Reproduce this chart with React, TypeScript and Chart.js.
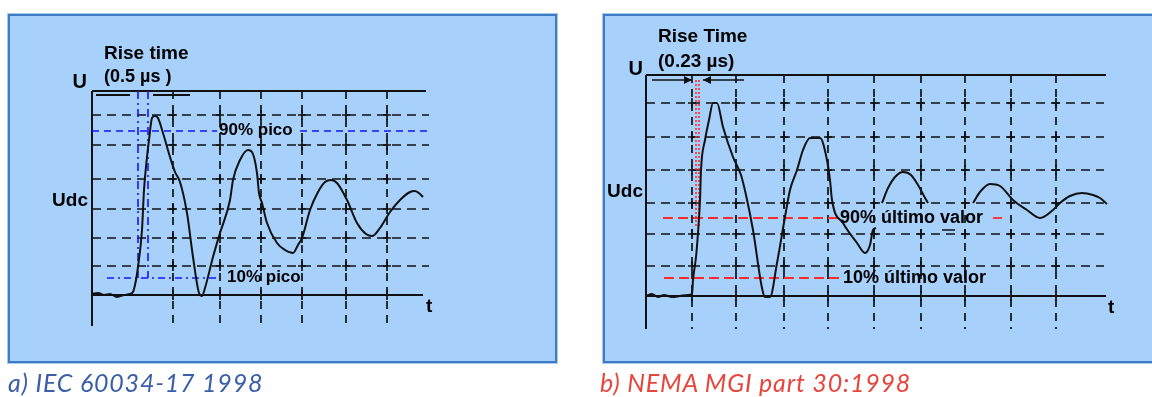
import React, { useEffect, useRef } from "react";
import { Chart, registerables } from "chart.js";

Chart.register(...registerables);

// ---------- a) IEC 60034-17 1998 (time / voltage in arbitrary screen units) ----------
const iecTime = [0, 6, 12, 18, 25, 32, 38, 41, 44, 46, 50, 52, 55, 57, 60, 63, 66, 71, 78, 83, 88, 95, 101, 107, 110, 113, 121, 128, 138, 141, 148, 156, 160, 165, 167, 170, 175, 185, 193, 201, 206, 210, 218, 226, 233, 239, 245, 255, 265, 274, 280, 288, 298, 308, 318, 323, 328, 331];
const iecVoltage = [1, 2, 0, 1, -2, 0, 1, 3, 15, 28, 65, 105, 138, 155, 177, 179, 177, 162, 138, 123, 113, 82, 38, 2, -1, 7, 38, 62, 95, 115, 135, 145, 143, 122, 102, 92, 72, 52, 45, 42, 50, 57, 85, 103, 113, 115, 112, 95, 72, 61, 59, 67, 83, 95, 103, 104, 101, 98];
const iecGridTime = [81, 128, 169, 210, 254, 295];
const iecGridVoltage = [180, 150, 116, 86, 57, 29];
const iecPeak90 = 164;
const iecPeak10 = 17;
const iecRiseStart = 46;
const iecRiseEnd = 56;

// ---------- b) NEMA MGI part 30:1998 ----------
const nemaTime1 = [0, 6, 12, 18, 26, 34, 42, 46, 47, 50, 52, 54, 55, 59, 63, 67, 71, 77, 87, 95, 100, 107, 116, 119, 124, 131, 139, 144, 151, 157, 164, 174, 181, 184, 186, 197, 211, 219, 224, 227, 230];
const nemaVoltage1 = [0, 2, -1, 1, -1, 0, 1, 2, 16, 39, 63, 96, 126, 156, 176, 193, 193, 169, 139, 121, 101, 66, 8, -1, -1, 33, 79, 106, 126, 146, 158, 158, 136, 116, 96, 73, 53, 43, 51, 66, 68];
const nemaTime2 = [236, 242, 249, 257, 265, 272, 278, 282];
const nemaVoltage2 = [93, 108, 119, 124, 121, 111, 100, 93];
const nemaTime3 = [327, 334, 344, 354, 367, 381, 394, 407, 414, 424, 436, 447, 454, 461];
const nemaVoltage3 = [93, 104, 112, 110, 96, 86, 78, 86, 93, 100, 103, 101, 98, 92];
const nemaGridTime = [46, 90, 138, 182, 228, 275, 319, 365, 410];
const nemaGridVoltage = [193, 159, 126, 93, 62, 30];
const nemaFinal90 = 78;
const nemaFinal10 = 18;
const nemaRiseStart = 50;
const nemaRiseEnd = 53;

type Pt = [number, number];
interface Guide { pts: Pt[]; color: string; dash: number[]; width: number }
interface Arrow { from: Pt; to: Pt }
interface Label { text: string; at: Pt; align: CanvasTextAlign; size: number; color?: string }
interface Spec {
  left: number; width: number;
  pad: { left: number; top: number; right: number; bottom: number };
  tMax: number; uMin: number; uMax: number;
  gridT: number[]; gridU: number[]; gridEnd: number; topEnd: number; baseEnd: number;
  series: { t: number[]; u: number[] }[];
  guides: Guide[]; arrows: Arrow[]; labels: Label[];
}

const BLUE = "#1414ff";
const RED = "#ff2b2b";
const INK = "#111111";

const iecSpec: Spec = {
  left: 0, width: 576,
  pad: { left: 92, top: 91, right: 150, bottom: 71 },
  tMax: 334, uMin: -31, uMax: 204,
  gridT: iecGridTime, gridU: iecGridVoltage, gridEnd: 337, topEnd: 334, baseEnd: 331,
  series: [{ t: iecTime, u: iecVoltage }],
  guides: [
    { pts: [[0, iecPeak90], [125, iecPeak90]], color: BLUE, dash: [7, 5], width: 1.6 },
    { pts: [[208, iecPeak90], [337, iecPeak90]], color: BLUE, dash: [7, 5], width: 1.6 },
    { pts: [[15, iecPeak10], [128, iecPeak10]], color: BLUE, dash: [7, 4, 2, 4], width: 1.6 },
    { pts: [[iecRiseStart, 204], [iecRiseStart, iecPeak10]], color: BLUE, dash: [8, 4, 2, 4], width: 1.6 },
    { pts: [[iecRiseEnd, 204], [iecRiseEnd, iecPeak10]], color: BLUE, dash: [8, 4, 2, 4], width: 1.6 },
    { pts: [[4, 200], [38, 200]], color: INK, dash: [], width: 2 },
    { pts: [[61, 200], [98, 200]], color: INK, dash: [], width: 2 },
  ],
  arrows: [],
  labels: [
    { text: "Rise time", at: [12, 241], align: "left", size: 19 },
    { text: "(0.5 µs )", at: [12, 218], align: "left", size: 18 },
    { text: "U", at: [-5, 213], align: "right", size: 20 },
    { text: "Udc", at: [-4, 94], align: "right", size: 19 },
    { text: "90% pico", at: [127, 165], align: "left", size: 17 },
    { text: "10% pico", at: [135, 18], align: "left", size: 17 },
    { text: "t", at: [334, -12], align: "left", size: 19 },
  ],
};

const nemaSpec: Spec = {
  left: 576, width: 576,
  pad: { left: 70, top: 75, right: 46, bottom: 68 },
  tMax: 460, uMin: -33, uMax: 221,
  gridT: nemaGridTime, gridU: nemaGridVoltage, gridEnd: 458, topEnd: 460, baseEnd: 460,
  series: [
    { t: nemaTime1, u: nemaVoltage1 },
    { t: nemaTime2, u: nemaVoltage2 },
    { t: nemaTime3, u: nemaVoltage3 },
  ],
  guides: [
    { pts: [[17, nemaFinal90], [192, nemaFinal90]], color: RED, dash: [10, 5], width: 1.8 },
    { pts: [[347, nemaFinal90], [356, nemaFinal90]], color: RED, dash: [], width: 1.8 },
    { pts: [[18, nemaFinal10], [194, nemaFinal10]], color: RED, dash: [10, 5], width: 1.8 },
    { pts: [[nemaRiseStart, 216], [nemaRiseStart, 68]], color: RED, dash: [2, 2], width: 1.6 },
    { pts: [[nemaRiseEnd, 216], [nemaRiseEnd, 68]], color: RED, dash: [2, 2], width: 1.6 },
    { pts: [[296, 66], [309, 66]], color: INK, dash: [], width: 1.5 },
  ],
  arrows: [
    { from: [6, 216], to: [46, 216] },
    { from: [98, 216], to: [57, 216] },
  ],
  labels: [
    { text: "Rise Time", at: [12, 259], align: "left", size: 19 },
    { text: "(0.23 µs)", at: [12, 234], align: "left", size: 19 },
    { text: "U", at: [-3, 227], align: "right", size: 20 },
    { text: "Udc", at: [-3, 104], align: "right", size: 19 },
    { text: "90% último valor", at: [194, nemaFinal90], align: "left", size: 18 },
    { text: "10% último valor", at: [197, nemaFinal10], align: "left", size: 18 },
    { text: "t", at: [462, -12], align: "left", size: 19 },
  ],
};

function scopePlugin(spec: Spec) {
  const X = (c: any, t: number) => c.scales.x.getPixelForValue(t);
  const Y = (c: any, u: number) => c.scales.y.getPixelForValue(u);
  const seg = (c: any, ctx: CanvasRenderingContext2D, a: Pt, b: Pt) => {
    ctx.beginPath();
    ctx.moveTo(X(c, a[0]), Y(c, a[1]));
    ctx.lineTo(X(c, b[0]), Y(c, b[1]));
    ctx.stroke();
  };
  return {
    id: "scopeDecor",
    beforeDatasetsDraw(c: any) {
      const ctx: CanvasRenderingContext2D = c.ctx;
      ctx.save();
      ctx.strokeStyle = INK;
      ctx.lineWidth = 1.7;
      ctx.setLineDash([9, 6]);
      spec.gridU.forEach((u) => seg(c, ctx, [0, u], [spec.gridEnd, u]));
      ctx.setLineDash([8, 6]);
      spec.gridT.forEach((t) => seg(c, ctx, [t, spec.uMax], [t, spec.uMin]));
      ctx.setLineDash([]);
      // small cross marks where grid lines meet
      ctx.lineWidth = 1.7;
      [...spec.gridU, 0].forEach((u) => {
        spec.gridT.forEach((t) => {
          const x = X(c, t);
          const y = Y(c, u);
          ctx.beginPath();
          ctx.moveTo(x, y - 5);
          ctx.lineTo(x, y + 5);
          ctx.moveTo(x - 4, y);
          ctx.lineTo(x + 4, y);
          ctx.stroke();
        });
      });
      ctx.lineWidth = 2;
      seg(c, ctx, [0, spec.uMax], [spec.topEnd, spec.uMax]);
      seg(c, ctx, [0, 0], [spec.baseEnd, 0]);
      seg(c, ctx, [0, spec.uMax], [0, spec.uMin]);
      spec.guides.forEach((g) => {
        ctx.strokeStyle = g.color;
        ctx.lineWidth = g.width;
        ctx.setLineDash(g.dash);
        seg(c, ctx, g.pts[0], g.pts[1]);
      });
      ctx.setLineDash([]);
      ctx.strokeStyle = INK;
      ctx.fillStyle = INK;
      ctx.lineWidth = 1.6;
      spec.arrows.forEach((a) => {
        seg(c, ctx, a.from, a.to);
        const x = X(c, a.to[0]);
        const y = Y(c, a.to[1]);
        const dir = Math.sign(X(c, a.to[0]) - X(c, a.from[0]));
        ctx.beginPath();
        ctx.moveTo(x, y);
        ctx.lineTo(x - dir * 8, y - 4);
        ctx.lineTo(x - dir * 8, y + 4);
        ctx.closePath();
        ctx.fill();
      });
      ctx.restore();
    },
    afterDatasetsDraw(c: any) {
      const ctx: CanvasRenderingContext2D = c.ctx;
      ctx.save();
      ctx.textBaseline = "middle";
      spec.labels.forEach((l) => {
        ctx.font = `bold ${l.size}px "Liberation Sans", Arial, sans-serif`;
        ctx.fillStyle = l.color || "#000";
        ctx.textAlign = l.align;
        ctx.fillText(l.text, X(c, l.at[0]), Y(c, l.at[1]));
      });
      ctx.restore();
    },
  };
}

function ScopeChart({ spec }: { spec: Spec }) {
  const ref = useRef<HTMLCanvasElement | null>(null);
  useEffect(() => {
    if (!ref.current) return;
    const chart = new Chart(ref.current, {
      type: "line",
      data: {
        datasets: spec.series.map((s) => ({
          data: s.t.map((t, i) => ({ x: t, y: s.u[i] })),
          borderColor: INK,
          borderWidth: 2,
          pointRadius: 0,
          cubicInterpolationMode: "monotone",
          fill: false,
          clip: false as any,
        })),
      },
      options: {
        animation: false,
        responsive: false,
        devicePixelRatio: 1,
        layout: { padding: spec.pad },
        scales: {
          x: { type: "linear", min: 0, max: spec.tMax, display: false },
          y: { type: "linear", min: spec.uMin, max: spec.uMax, display: false },
        },
        plugins: { legend: { display: false }, tooltip: { enabled: false }, title: { display: false } },
        events: [],
      },
      plugins: [scopePlugin(spec)],
    } as any);
    return () => chart.destroy();
  }, [spec]);
  return (
    <canvas
      ref={ref}
      width={spec.width}
      height={397}
      style={{ position: "absolute", left: spec.left, top: 0, width: spec.width, height: 397 }}
    />
  );
}

const panelStyle: React.CSSProperties = {
  position: "absolute",
  top: 14,
  height: 349,
  boxSizing: "border-box",
  background: "#a7d0fb",
  border: "2px solid #3b7cc2",
  boxShadow: "0 0 0 1px #a9c9ea",
};

const captionStyle: React.CSSProperties = {
  position: "absolute",
  top: 370,
  fontFamily: "Lato, 'Open Sans', sans-serif",
  fontStyle: "italic",
  fontSize: 25,
  letterSpacing: "0.8px",
  lineHeight: "25px",
  whiteSpace: "nowrap",
};

export default function App() {
  return (
    <div
      style={{
        position: "absolute",
        left: 0,
        top: 0,
        width: 1152,
        height: 397,
        overflow: "hidden",
        background: "#ffffff",
      }}
    >
      <div style={{ ...panelStyle, left: 8, width: 549 }} />
      <div style={{ ...panelStyle, left: 603, width: 560 }} />
      <ScopeChart spec={iecSpec} />
      <ScopeChart spec={nemaSpec} />
      <div style={{ ...captionStyle, left: 8, color: "#3a5ea8" }}>a) IEC 60034-17 1998</div>
      <div style={{ ...captionStyle, left: 600, color: "#e8453c" }}>b) NEMA MGI part 30:1998</div>
    </div>
  );
}
